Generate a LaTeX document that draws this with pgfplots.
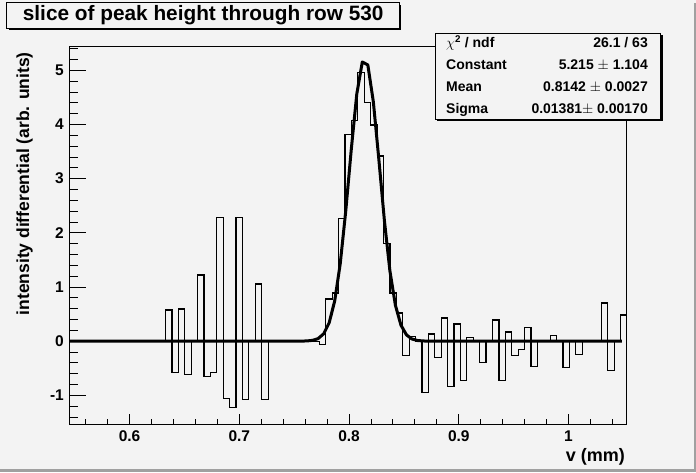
\documentclass[border=0pt]{standalone}
\usepackage{pgfplots}
\pgfplotsset{compat=1.18}
\usepackage{fontspec}
\setmainfont{Liberation Sans}
\definecolor{bgc}{RGB}{243,243,243}
\definecolor{edge}{RGB}{160,160,160}
\begin{document}
\begin{tikzpicture}[x=1pt,y=1pt]
\fill[bgc] (0,0) rectangle (696,472);
\fill[edge] (0,0) rectangle (696,2.7);
\fill[edge] (694,0) rectangle (696,469);
\begin{axis}[
  scale only axis, width=557.2pt, height=377.5pt,
  at={(69.5pt,48pt)}, anchor=south west,
  xmin=0.5453, xmax=1.0530, ymin=-1.53, ymax=5.44,
  axis line style={line width=0.9pt},
  xtick={0.6,0.7,0.8,0.9,1.0}, xticklabels={0.6,0.7,0.8,0.9,1},
  minor xtick={0.56,0.58,0.62,0.64,0.66,0.68,0.72,0.74,0.76,0.78,0.82,0.84,0.86,0.88,0.92,0.94,0.96,0.98,1.02,1.04},
  ytick=\empty,
  xtick pos=bottom, xtick align=inside,
  major tick length=10pt, minor tick length=5pt,
  every tick/.style={black, line width=0.9pt},
  xticklabel style={font=\fontsize{15.5}{15.5}\selectfont\bfseries, inner sep=0pt, anchor=north, yshift=-6.5pt},
  clip=true,
]
\addplot[const plot mark left, black, line width=1.2pt, mark=none] coordinates {
(0.5453,0)
(0.63282,0.574)
(0.63866,-0.574)
(0.64450,0.593)
(0.65034,-0.611)
(0.65618,0)
(0.66202,1.222)
(0.66786,-0.648)
(0.67370,-0.574)
(0.67954,2.278)
(0.68538,-1.056)
(0.69123,-1.222)
(0.69707,2.278)
(0.70291,-1.074)
(0.70875,0)
(0.71459,1.056)
(0.72043,-1.074)
(0.72627,0)
(0.77300,-0.056)
(0.77884,0.778)
(0.78468,0.889)
(0.79052,2.259)
(0.79636,3.815)
(0.80220,4.07)
(0.80805,4.963)
(0.81389,4.40)
(0.81973,3.99)
(0.82557,3.42)
(0.83141,1.80)
(0.83725,0.889)
(0.84309,0.52)
(0.84893,-0.259)
(0.85477,0.09)
(0.86061,0)
(0.86646,-0.944)
(0.87230,0.13)
(0.87814,-0.296)
(0.88398,0.426)
(0.88982,-0.833)
(0.89566,0.315)
(0.90150,-0.722)
(0.90734,0.074)
(0.91318,0)
(0.91902,-0.389)
(0.92487,0)
(0.93071,0.389)
(0.93655,-0.722)
(0.94239,0.167)
(0.94823,-0.259)
(0.95407,-0.148)
(0.95991,0.259)
(0.96575,-0.463)
(0.97159,0)
(0.98328,0.111)
(0.98912,0)
(0.99496,-0.481)
(1.00080,0)
(1.00664,-0.241)
(1.01248,0)
(1.03000,0.704)
(1.03584,-0.537)
(1.04169,0)
(1.04753,0.481)
(1.0530,0.481)
};
\addplot[black, line width=3pt, mark=none, line join=round] coordinates {
(0.5455,0)
(0.75173,0.0002)
(0.75676,0.0009)
(0.76179,0.0039)
(0.76682,0.0145)
(0.77185,0.0473)
(0.77688,0.1353)
(0.78191,0.339)
(0.78694,0.743)
(0.79197,1.4275)
(0.79700,2.401)
(0.80203,3.537)
(0.80706,4.5625)
(0.81209,5.1545)
(0.81712,5.0997)
(0.82215,4.4187)
(0.82718,3.353)
(0.83221,2.228)
(0.83724,1.2966)
(0.84227,0.6607)
(0.84730,0.295)
(0.85233,0.1153)
(0.85736,0.0395)
(0.86239,0.0118)
(0.86742,0.0031)
(0.87245,0.0007)
(1.0487,0)
};
\end{axis}
\begin{axis}[
  scale only axis, width=557.2pt, height=377.5pt,
  at={(69.5pt,48pt)}, anchor=south west,
  xmin=0.5453, xmax=1.0530, ymin=-1.53, ymax=5.44,
  axis line style={draw=none},
  xtick=\empty,
  ytick={-1,0,1,2,3,4,5}, yticklabels={-1,0,1,2,3,4,5},
  minor ytick={-1.4,-1.2,-0.8,-0.6,-0.4,-0.2,0.2,0.4,0.6,0.8,1.2,1.4,1.6,1.8,2.2,2.4,2.6,2.8,3.2,3.4,3.6,3.8,4.2,4.4,4.6,4.8,5.2,5.4},
  ytick pos=left, ytick align=inside,
  major tick length=16pt, minor tick length=8pt,
  every tick/.style={black, line width=0.9pt},
  yticklabel style={font=\fontsize{15.5}{15.5}\selectfont\bfseries, inner sep=0pt, anchor=east, xshift=-5.5pt},
]
\end{axis}
% title box
\fill[black] (8.7,441.7) rectangle (401,467.3);
\filldraw[fill=bgc, draw=black, line width=0.9pt] (6.7,443.7) rectangle (399,469.3);
\node[anchor=base west, inner sep=0pt, font=\fontsize{20.8}{20.8}\selectfont\bfseries] at (22.7,451.3) {slice of peak height through row 530};
% stats box
\fill[black] (437,350.7) rectangle (662.7,436.7);
\filldraw[fill=bgc, draw=black, line width=0.9pt] (435,352.7) rectangle (660.7,438.7);
\begin{scope}[every node/.style={inner sep=0pt, font=\fontsize{14}{14}\selectfont\bfseries}]
\node[anchor=base west] at (446,424.7) {$\chi$\textsuperscript{2} / ndf};
\node[anchor=base east] at (648,424.7) {26.1 / 63};
\node[anchor=base west] at (446,402.5) {Constant};
\node[anchor=base east] at (648,402.5) {5.215 $\pm$ 1.104};
\node[anchor=base west] at (446,380.3) {Mean};
\node[anchor=base east] at (648,380.3) {0.8142 $\pm$ 0.0027};
\node[anchor=base west] at (446,358.5) {Sigma};
\node[anchor=base east] at (648,358.5) {0.01381$\pm$ 0.00170};
\end{scope}
% axis titles
\node[anchor=base east, inner sep=0pt, rotate=90, font=\fontsize{17.5}{17.5}\selectfont\bfseries] at (29,420) {intensity differential (arb. units)};
\node[anchor=base east, inner sep=0pt, font=\fontsize{18}{18}\selectfont\bfseries] at (625,11) {v (mm)};
\pgfresetboundingbox
\path[use as bounding box] (0,0) rectangle (696,472);
\end{tikzpicture}
\end{document}
